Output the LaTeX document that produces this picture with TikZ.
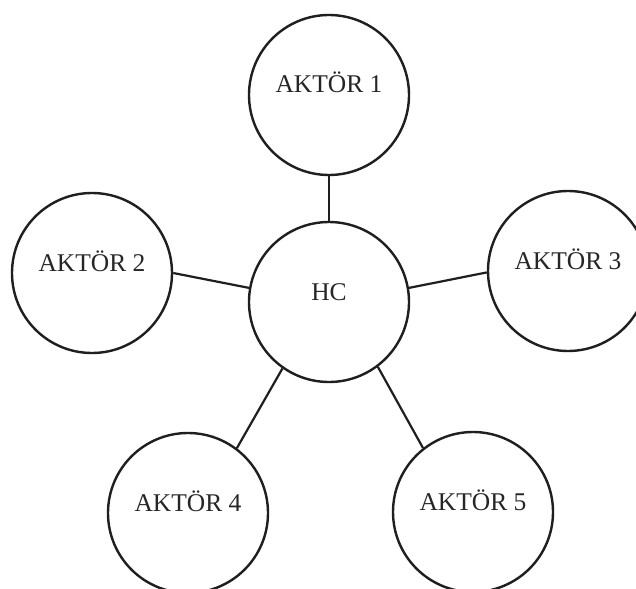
\documentclass[tikz,border=0pt]{standalone}
\usepackage{fontspec}
\setmainfont{Liberation Serif}
\begin{document}
\begin{tikzpicture}[x=1pt,y=-1pt,
  actor/.style={circle,draw=black!88,line width=2.4pt,minimum size=160pt,inner sep=0pt,
    font=\fontsize{25.5}{28}\selectfont,text=black!85,text height=5pt,text depth=9pt},
  link/.style={draw=black!88,line width=2.2pt}]
\useasboundingbox (0,0) rectangle (636,588);
\clip (0,0) rectangle (636,588);
\fill[white] (0,0) rectangle (636,588);
\node[actor] (hc) at (329,302) {HC};
\node[actor] (a1) at (329,95) {AKTÖR 1};
\node[actor] (a2) at (92,273) {AKTÖR 2};
\node[actor] (a3) at (568,271) {AKTÖR 3};
\node[actor] (a4) at (188,513) {AKTÖR 4};
\node[actor] (a5) at (473,512) {AKTÖR 5};
\draw[link] (a1.south) -- (hc.north);
\draw[link] (a2.east) -- (hc.170);
\draw[link] (hc.10) -- (a3.181);
\draw[link] (a4.53) -- (hc.235);
\draw[link] (hc.-53) -- (a5.128);
\end{tikzpicture}
\end{document}
